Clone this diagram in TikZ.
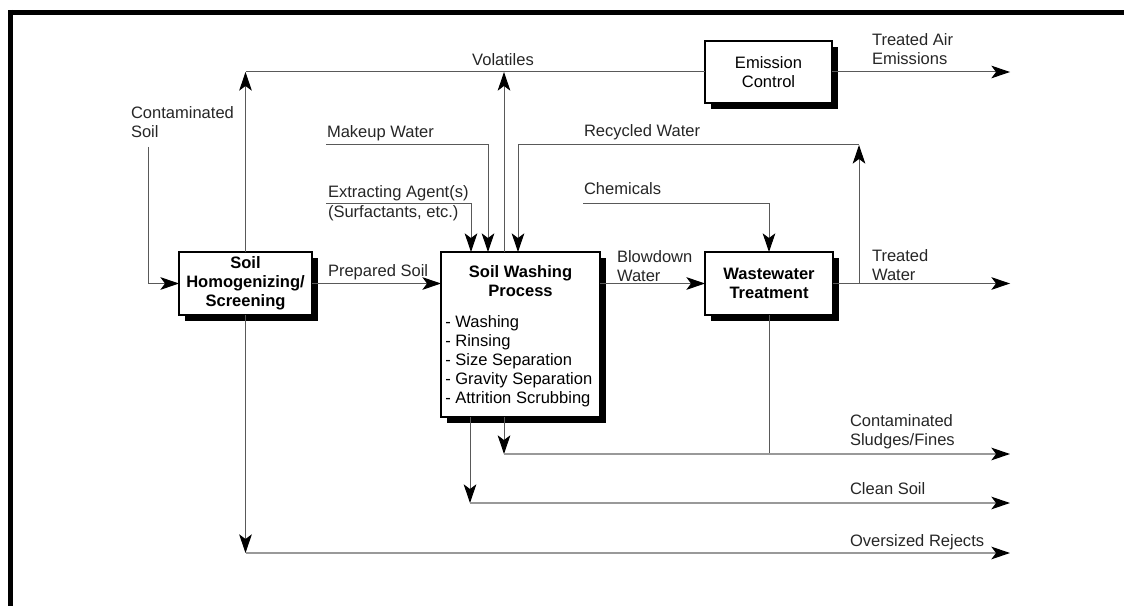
\documentclass[tikz,border=0pt]{standalone}
\usepackage{fontspec}
\setmainfont{Liberation Sans}
\usetikzlibrary{arrows.meta,shadows}
\begin{document}
\begin{tikzpicture}[x=0.75pt,y=-0.75pt,
  txt/.style={font=\fontsize{12.4pt}{14.25pt}\selectfont},
  lbl/.style={txt, text=black!85, inner sep=0pt, outer sep=0pt, align=left},
  boxn/.style={draw=black, line width=2pt, fill=white, inner sep=0pt, outer sep=0pt,
    drop shadow={shadow xshift=4.2pt, shadow yshift=-4.5pt, fill=black, opacity=1},
    txt, align=center},
  conn/.style={draw=black!65, line width=0.75pt},
  pale/.style={draw=black!40, line width=1.3pt},
  tip/.style={-{Stealth[length=14pt,width=9.5pt,inset=3.5pt,color=black]}},
  arr/.style={conn, tip},
]
\useasboundingbox (0,0) rectangle (1124,606);
% frame
\draw[line width=3.75pt] (8,12.5) -- (1124,12.5);
\draw[line width=3.75pt] (10.5,10) -- (10.5,606);

% boxes
\node[boxn, font=\fontsize{12.4pt}{14.25pt}\selectfont\bfseries, minimum width=99.75pt, minimum height=47.25pt] (hom) at (245.5,283.5) {Soil\\Homogenizing/\\Screening};
\node[boxn, minimum width=119.25pt, minimum height=123.75pt] (was) at (520.5,334.5) {};
\node[txt, font=\fontsize{12.4pt}{14.25pt}\selectfont\bfseries, align=center, inner sep=0pt] (wastitle) at (520.5,281) {Soil Washing\\Process};
\node[txt, align=left, inner sep=0pt, anchor=west] (waslist) at (445,361) {- Washing\\- Rinsing\\- Size Separation\\- Gravity Separation\\- Attrition Scrubbing};
\node[boxn, font=\fontsize{12.4pt}{14.25pt}\selectfont\bfseries, minimum width=96pt, minimum height=47.25pt] (wwt) at (769,283.5) {Wastewater\\Treatment};
\node[boxn, minimum width=95.25pt, minimum height=46.5pt] (emi) at (768.5,72) {Emission\\Control};

% helper coordinates
\coordinate (xend) at (1010,0);
\coordinate (cVol) at (504,72);
\coordinate (cs0) at (148,147);
\coordinate (mw0) at (326,145);
\coordinate (mw1) at (488,145);
\coordinate (ea0) at (326,203);
\coordinate (ea1) at (471,203);
\coordinate (rw0) at (859,283.5);
\coordinate (rw1) at (859,145);
\coordinate (rw2) at (518,145);
\coordinate (ch0) at (583,203);
\coordinate (sl0) at (504,454);
\coordinate (cl0) at (470,503);
\coordinate (ov0) at (245.5,553);

% volatiles
\draw[conn] (hom.north |- emi.west) -- (emi.west);
\draw[arr] (hom.north) -- (hom.north |- emi.west);
\draw[arr] (was.north -| cVol) -- (cVol);
\draw[arr] (emi.east) -- (emi.east -| xend);

% inputs
\draw[arr] (cs0) -- (cs0 |- hom.west) -- (hom.west);
\draw[arr] (mw0) -- (mw1) -- (was.north -| mw1);
\draw[arr] (ea0) -- (ea1) -- (was.north -| ea1);
\draw[arr] (rw0) -- (rw1);
\draw[arr] (rw1) -- (rw2) -- (was.north -| rw2);
\draw[arr] (ch0) -- (ch0 -| wwt.north) -- (wwt.north);

% main flow
\draw[arr] (hom.east) -- (hom.east -| was.west);
\draw[arr] (hom.east -| was.east) -- (wwt.west);
\draw[arr] (wwt.east) -- (wwt.east -| xend);

% outputs
\draw[arr] (was.south -| sl0) -- (sl0);
\draw[conn] (wwt.south) -- (wwt.south |- sl0);
\draw[pale, tip] (sl0) -- (sl0 -| xend);
\draw[arr] (was.south -| cl0) -- (cl0);
\draw[pale, tip] (cl0) -- (cl0 -| xend);
\draw[arr] (hom.south) -- (ov0);
\draw[pale, tip] (ov0) -- (ov0 -| xend);

% labels
\node[lbl, anchor=west] (lCS) at (131,122) {Contaminated\\Soil};
\node[lbl] (lVol) at (503,60) {Volatiles};
\node[lbl, anchor=west] (lTA) at (872,49) {Treated Air\\Emissions};
\node[lbl, anchor=west] (lMW) at (327,133) {Makeup Water};
\node[lbl, anchor=west] (lEA) at (328,193) {Extracting Agent(s)};
\node[lbl, anchor=west] (lSu) at (328,213) {(Surfactants, etc.)};
\node[lbl, anchor=west] (lRW) at (584,132) {Recycled Water};
\node[lbl, anchor=west] (lCh) at (584,189) {Chemicals};
\node[lbl, anchor=west] (lPS) at (328,272) {Prepared Soil};
\node[lbl, anchor=west] (lBW) at (617,266.5) {Blowdown\\Water};
\node[lbl, anchor=west] (lTW) at (872,265) {Treated\\Water};
\node[lbl, anchor=west] (lSF) at (850,431.5) {Contaminated\\Sludges/Fines};
\node[lbl, anchor=west] (lCl) at (850,489) {Clean Soil};
\node[lbl, anchor=west] (lOR) at (850,542) {Oversized Rejects};
\end{tikzpicture}
\end{document}
